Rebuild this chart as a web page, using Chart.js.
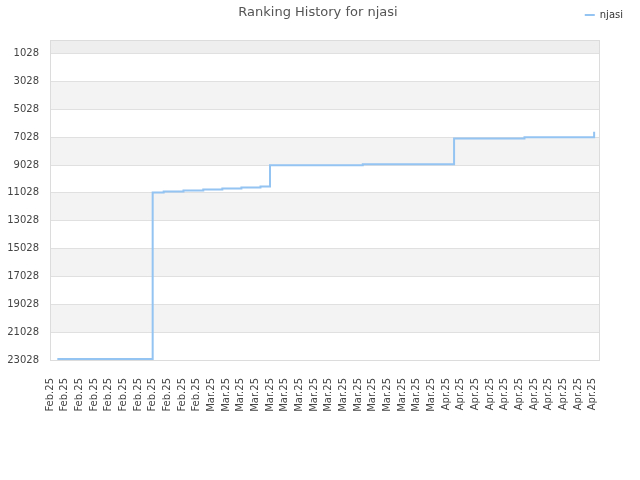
<!DOCTYPE html>
<html>
<head>
<meta charset="utf-8">
<script src="https://cdn.jsdelivr.net/npm/chart.js@4/dist/chart.umd.min.js"></script>
<style>
  html, body { margin: 0; padding: 0; background: #fff; }
  #wrap { width: 640px; height: 480px; }
</style>
</head>
<body>
<div id="wrap"><canvas id="chart"></canvas></div>
<script>
const chartTitle = 'Ranking History for njasi'
const seriesName = 'njasi'

// x = days after the first label (Feb 7), y = rank
const rankDays = [1, 14, 15.5, 18.2, 20.9, 23.5, 26.1, 28.7, 30, 42.65, 55.1, 64.7, 74.2]
const rankValues = [22956, 11000, 10920, 10848, 10777, 10705, 10633, 10561, 9050, 8964, 7129, 7036, 6647]

const xTickDays = [0, 2, 4, 6, 8, 10, 12, 14, 16, 18, 20,
  22, 24, 26, 28, 30, 32, 34, 36, 38, 40, 42, 44, 46, 48, 50, 52,
  54, 56, 58, 60, 62, 64, 66, 68, 70, 72, 74]
const xTickLabels = [
  'Feb.25', 'Feb.25', 'Feb.25', 'Feb.25', 'Feb.25', 'Feb.25', 'Feb.25', 'Feb.25', 'Feb.25', 'Feb.25', 'Feb.25',
  'Mar.25', 'Mar.25', 'Mar.25', 'Mar.25', 'Mar.25', 'Mar.25', 'Mar.25', 'Mar.25',
  'Mar.25', 'Mar.25', 'Mar.25', 'Mar.25', 'Mar.25', 'Mar.25', 'Mar.25', 'Mar.25',
  'Apr.25', 'Apr.25', 'Apr.25', 'Apr.25', 'Apr.25', 'Apr.25', 'Apr.25', 'Apr.25', 'Apr.25', 'Apr.25', 'Apr.25'
]
const yTicks = [1028, 3028, 5028, 7028, 9028, 11028, 13028, 15028, 17028, 19028, 21028, 23028]

const lineColor = '#94c4f2'
const font = "'DejaVu Sans', sans-serif"

// striped background + frame round the plot area
const bandsPlugin = {
  id: 'bands',
  beforeDraw(chart) {
    const { ctx, chartArea: a, scales: { y } } = chart
    const edges = [y.min].concat(yTicks)
    ctx.save()
    for (let i = 0; i < edges.length - 1; i++) {
      if (i % 2) continue
      const y1 = y.getPixelForValue(edges[i])
      const y2 = y.getPixelForValue(edges[i + 1])
      ctx.fillStyle = i === 0 ? '#eeeeee' : '#f3f3f3'
      ctx.fillRect(a.left, y1, a.right - a.left, y2 - y1)
    }
    ctx.restore()
  },
  afterDraw(chart) {
    const { ctx, chartArea: a } = chart
    ctx.save()
    ctx.strokeStyle = '#dcdcdc'
    ctx.lineWidth = 1
    ctx.strokeRect(a.left + 0.5, a.top + 0.5, a.right - a.left - 1, a.bottom - a.top)
    ctx.fillStyle = '#555'
    ctx.font = '13px ' + font
    ctx.textAlign = 'center'
    ctx.textBaseline = 'middle'
    ctx.fillText(chartTitle, 318, 13)
    ctx.restore()
  }
}

new Chart(document.getElementById('chart'), {
  type: 'line',
  data: {
    datasets: [{
      label: seriesName,
      data: rankDays.map((d, i) => ({ x: d, y: rankValues[i] })),
      borderColor: lineColor,
      backgroundColor: lineColor,
      borderWidth: 2,
      pointRadius: 0,
      stepped: 'before',
      fill: false
    }]
  },
  options: {
    responsive: true,
    maintainAspectRatio: false,
    animation: false,
    layout: { padding: { top: 0, right: 7, bottom: 0, left: 0 } },
    plugins: {
      title: { display: false },
      tooltip: { enabled: false },
      legend: {
        position: 'top',
        align: 'end',
        labels: {
          boxWidth: 10,
          boxHeight: 0,
          padding: 10,
          color: '#333',
          font: { family: font, size: 10 }
        }
      }
    },
    scales: {
      x: {
        type: 'linear',
        min: 0,
        max: 75,
        afterBuildTicks(scale) {
          scale.ticks = xTickDays.map(v => ({ value: v }))
        },
        afterFit(scale) { scale.height = 120 },
        grid: { display: false },
        border: { display: false },
        ticks: {
          autoSkip: false,
          minRotation: 90,
          maxRotation: 90,
          padding: 10,
          color: '#444',
          font: { family: font, size: 10 },
          callback: (value, index) => xTickLabels[index]
        }
      },
      xTop: {
        type: 'linear',
        position: 'top',
        afterFit(scale) { scale.height = 10 },
        grid: { display: false },
        border: { display: false },
        ticks: { display: false }
      },
      y: {
        reverse: true,
        min: 50,
        max: 23028,
        afterBuildTicks(scale) {
          scale.ticks = yTicks.map(v => ({ value: v }))
        },
        afterFit(scale) { scale.width = 50 },
        grid: { color: '#e0e0e0', drawTicks: false },
        border: { display: false },
        ticks: {
          padding: 11,
          color: '#444',
          font: { family: font, size: 10 },
          callback: value => String(value)
        }
      },
      yRight: {
        position: 'right',
        afterFit(scale) { scale.width = 33 },
        grid: { display: false },
        border: { display: false },
        ticks: { display: false }
      }
    }
  },
  plugins: [bandsPlugin]
})
</script>
</body>
</html>
